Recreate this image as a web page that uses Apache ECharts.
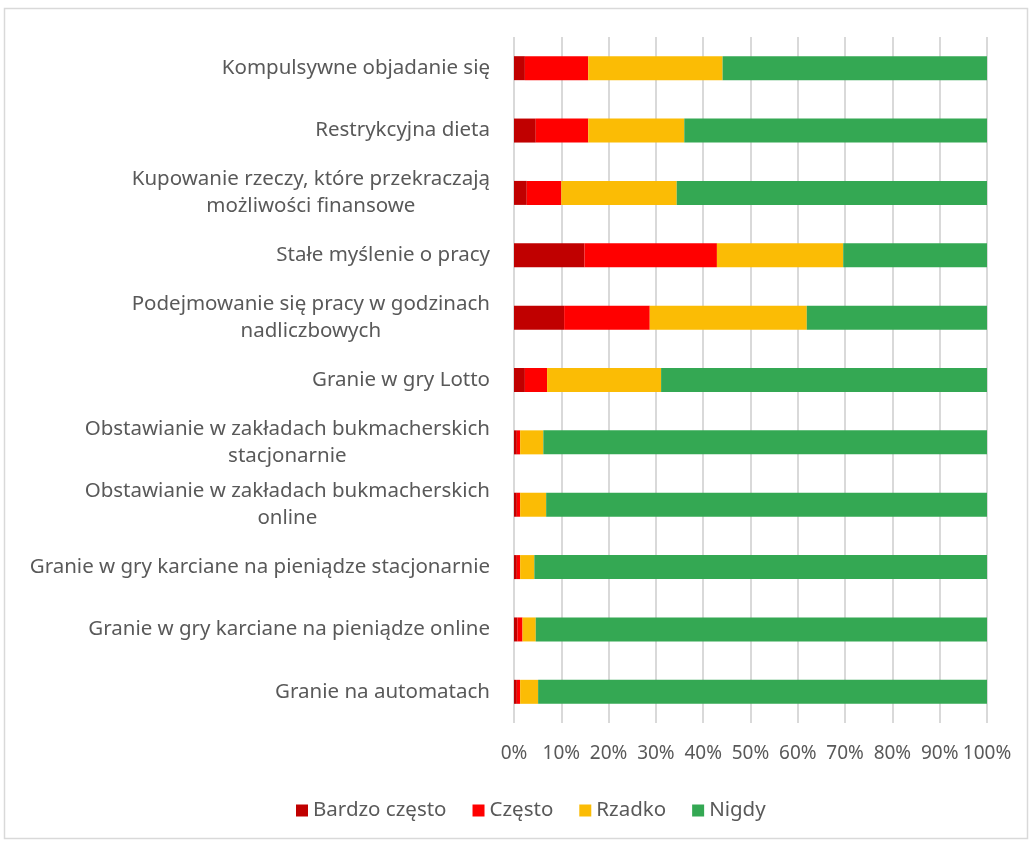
<!DOCTYPE html>
<html>
<head>
<meta charset="utf-8">
<script src="https://cdn.jsdelivr.net/npm/echarts@6/dist/echarts.min.js"></script>
<style>
  html, body { margin: 0; padding: 0; background: #fff; }
  #chart { width: 1032px; height: 841px; }
</style>
</head>
<body>
<div id="chart"></div>
<script>
// Behaviours, listed top to bottom
const categories = [
  'Kompulsywne objadanie się',
  'Restrykcyjna dieta',
  'Kupowanie rzeczy, które przekraczają\nmożliwości finansowe',
  'Stałe myślenie o pracy',
  'Podejmowanie się pracy w godzinach\nnadliczbowych',
  'Granie w gry Lotto',
  'Obstawianie w zakładach bukmacherskich\nstacjonarnie',
  'Obstawianie w zakładach bukmacherskich\nonline',
  'Granie w gry karciane na pieniądze stacjonarnie',
  'Granie w gry karciane na pieniądze online',
  'Granie na automatach'
];

// Share of answers (%) per behaviour
const bardzoCzesto = [2.3, 4.6, 2.7, 14.9, 10.6, 2.3, 0.6, 0.6, 0.6, 0.7, 0.6];
const czesto       = [13.4, 11.1, 7.3, 28.0, 18.1, 4.7, 0.7, 0.7, 0.7, 1.1, 0.7];
const rzadko       = [28.4, 20.3, 24.4, 26.7, 33.2, 24.1, 4.9, 5.5, 3.0, 2.8, 3.8];
const nigdy        = [55.9, 64.0, 65.6, 30.4, 38.1, 68.9, 93.8, 93.2, 95.7, 95.4, 94.9];

const seriesNames = ['Bardzo często', 'Często', 'Rzadko', 'Nigdy'];
const seriesColors = ['#C00000', '#FF0000', '#FBBC05', '#34A853'];
const xTicks = [0, 10, 20, 30, 40, 50, 60, 70, 80, 90, 100];

const FONT = '"Noto Sans", sans-serif';
const TEXT = '#595959';
const LABEL_SIZE = 20.5;

const chart = echarts.init(document.getElementById('chart'), null, { renderer: 'canvas' });

const dataSets = [bardzoCzesto, czesto, rzadko, nigdy];

chart.setOption({
  animation: false,
  backgroundColor: '#fff',
  graphic: [{
    type: 'rect',
    shape: { x: 4.5, y: 8.5, width: 1023, height: 830 },
    style: { fill: 'none', stroke: '#D9D9D9', lineWidth: 1.5 },
    silent: true
  }],
  grid: { left: 514, right: 45, top: 37, bottom: 118, containLabel: false },
  legend: {
    data: seriesNames,
    left: 291,
    top: 795,
    icon: 'rect',
    itemWidth: 12,
    itemHeight: 12,
    itemGap: 26,
    textStyle: { fontFamily: FONT, fontSize: LABEL_SIZE, color: TEXT }
  },
  xAxis: {
    type: 'value',
    min: 0,
    max: 100,
    interval: 10,
    axisLine: { show: false },
    axisTick: { show: false },
    splitLine: { show: true, lineStyle: { color: '#D9D9D9', width: 2 } },
    axisLabel: {
      margin: 21,
      fontFamily: FONT,
      fontSize: 19,
      color: TEXT,
      formatter: v => xTicks.includes(v) ? v + '%' : ''
    }
  },
  yAxis: {
    type: 'category',
    inverse: true,
    data: categories,
    axisLine: { show: false },
    axisTick: { show: false },
    splitLine: { show: false },
    axisLabel: {
      margin: 24,
      fontFamily: FONT,
      fontSize: LABEL_SIZE,
      color: TEXT,
      lineHeight: 27,
      align: 'right',
      formatter: v => v.split('\n').map(s => '{c|' + s + '}').join('\n'),
      rich: { c: { align: 'center', fontFamily: FONT, fontSize: LABEL_SIZE, color: TEXT, lineHeight: 27 } }
    }
  },
  series: dataSets.map((d, i) => ({
    name: seriesNames[i],
    type: 'bar',
    stack: 'total',
    data: d,
    barWidth: 24,
    itemStyle: { color: seriesColors[i] }
  }))
});
</script>
</body>
</html>
